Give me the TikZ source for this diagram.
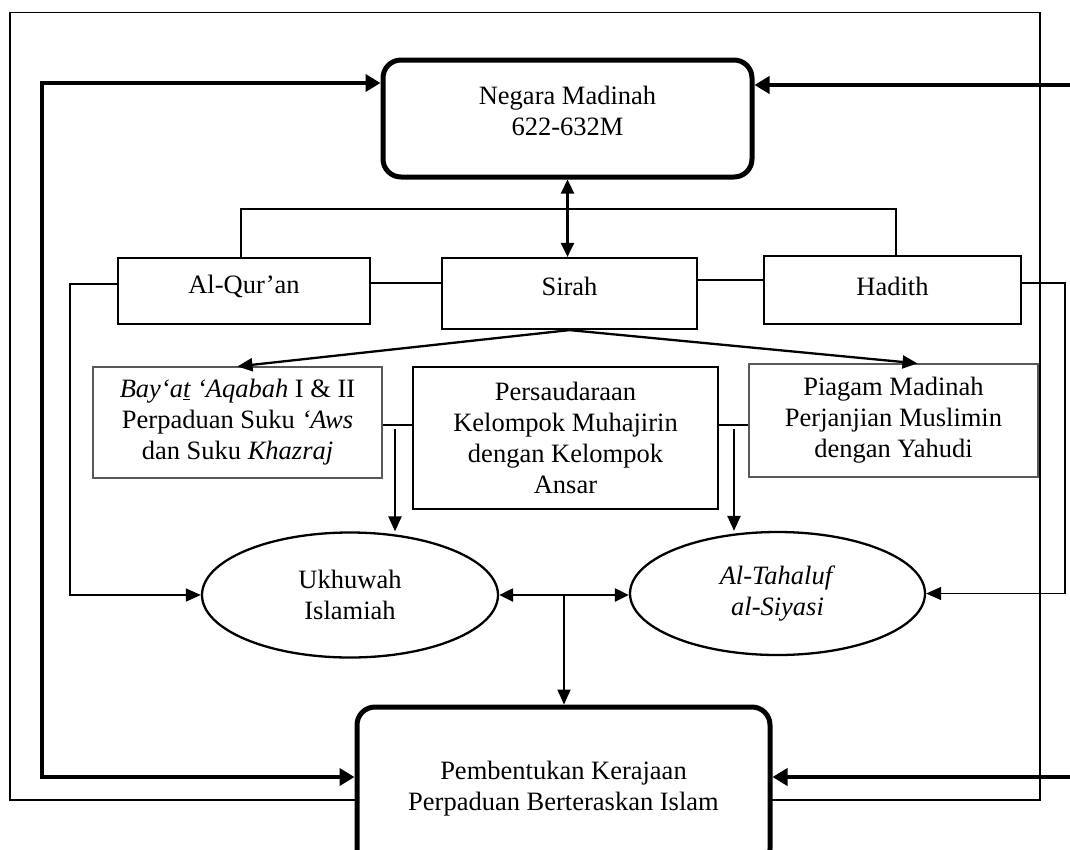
\documentclass[tikz,border=0pt]{standalone}
\usepackage{fontspec}
\setmainfont{Liberation Serif}
\usetikzlibrary{arrows.meta,shapes.geometric}
\newcommand\dfont{\fontsize{26.5}{31}\selectfont}
\begin{document}
\begin{tikzpicture}[x=1pt,y=-1pt,
  frameline/.style={line width=1.3pt},
  thinline/.style={line width=1.3pt},
  medline/.style={line width=2.3pt},
  heavyline/.style={line width=4.7pt},
  bigbox/.style={draw,line width=5pt,rounded corners=18pt,fill=white,inner sep=0pt},
  rowbox/.style={draw,line width=2.2pt,fill=white,inner sep=0pt},
  graybox/.style={draw=black!65,line width=1.2pt,fill=white,inner sep=0pt,align=center,font=\dfont},
  blackbox/.style={draw,line width=1.5pt,fill=white,inner sep=0pt,align=center,font=\dfont},
  oval/.style={draw,ellipse,line width=2.3pt,fill=white,inner sep=0pt,align=center,font=\dfont},
  txt/.style={align=center,inner sep=0pt,font=\dfont},
  bigtips/.style={>={Triangle[length=15pt,width=17pt]},<->},
  bigtip/.style={>={Triangle[length=15pt,width=17pt]},->},
  medtips/.style={>={Triangle[length=14pt,width=13pt]},<->},
  medtip/.style={>={Triangle[length=15pt,width=13pt]},->},
  smtip/.style={>={Triangle[length=15pt,width=13pt]},->}
]
\useasboundingbox (0,0) rectangle (1070,849);
\fill[white] (0,0) rectangle (1070,849);

% outer frame
\draw[frameline] (10,12.5) rectangle (1040,800);

% main boxes
\node[bigbox,minimum width=369pt,minimum height=117pt] (nm) at (567.5,118.5) {};
\node[txt] (nmt) at (567.5,111) {Negara Madinah\\622-632M};

\node[bigbox,minimum width=413pt,minimum height=160pt] (pb) at (563.5,787) {};
\node[txt] (pbt) at (563.5,789) {Pembentukan Kerajaan\\Perpaduan Berteraskan Islam};

% sources row
\node[rowbox,minimum width=252pt,minimum height=66pt] (q) at (244,291) {};
\node[txt] (qt) at (244,286) {Al-Qur’an};
\node[rowbox,minimum width=255pt,minimum height=71pt] (s) at (569.5,293.5) {};
\node[txt] (st) at (569.5,286) {Sirah};
\node[rowbox,minimum width=257pt,minimum height=68pt] (h) at (892.5,290) {};
\node[txt] (ht) at (892.5,286) {Hadith};

% middle row
\node[graybox,minimum width=289pt,minimum height=111pt] (b) at (237.5,422.5)
  {\textit{Bay‘a\underline{t} ‘Aqabah} I \& II\\Perpaduan Suku \textit{‘Aws}\\dan Suku \textit{Khazraj}};
\node[blackbox,minimum width=305pt,minimum height=142pt] (p) at (565.5,438)
  {Persaudaraan\\Kelompok Muhajirin\\dengan Kelompok\\Ansar};
\node[graybox,minimum width=289pt,minimum height=113pt] (g) at (893.5,420.5)
  {Piagam Madinah\\Perjanjian Muslimin\\dengan Yahudi};

% ellipses
\node[oval,minimum width=296pt,minimum height=125pt] (u) at (350,595) {Ukhuwah\\Islamiah};
\node[oval,minimum width=295pt,minimum height=123pt] (t) at (777.5,593.5) {\textit{Al-Tahaluf}\\\textit{al-Siyasi}};

% heavy arrows
\coordinate (cl1) at (42,83);
\coordinate (cl2) at (42,777);
\coordinate (cr1) at (1076,85);
\coordinate (cr2) at (1076,777);
\draw[heavyline,bigtips] (cl1 -| nm.west) -- (cl1) -- (cl2) -- (cl2 -| pb.west);
\draw[heavyline,bigtip] (cr1) -- (cr1 -| nm.east);
\draw[heavyline,bigtip] (cr2) -- (cr2 -| pb.east);

% Madinah <-> Sirah
\draw[medline,medtips] (nm.south) -- (nm.south |- s.north);

% top bracket
\coordinate (bk1) at (241,209);
\coordinate (bk2) at (896,209);
\draw[thinline] (bk1 |- q.north) -- (bk1) -- (bk2) -- (bk2 |- h.north);

% row links
\coordinate (qs) at (400,283);
\coordinate (sh) at (730,280);
\draw[thinline] (q.east |- qs) -- (s.west |- qs);
\draw[thinline] (s.east |- sh) -- (h.west |- sh);

% side connectors
\coordinate (ql) at (70,284);
\coordinate (hr) at (1065,283);
\draw[thinline,smtip] (q.west |- ql) -- (ql) -- (ql |- u.west) -- (u.west);
\draw[thinline,smtip] (h.east |- hr) -- (hr) -- (hr |- t.east) -- (t.east);

% Sirah split
\draw[medline,medtip] (s.south) -- (b.north);
\draw[medline,medtip] (s.south) -- ([xshift=24pt]g.north);

% middle links and arrows down
\coordinate (m1) at (395,425);
\coordinate (m2) at (734,425);
\coordinate (m1d) at (395,429);
\coordinate (m2d) at (734,429);
\draw[line width=2pt] (b.east |- m1) -- (p.west |- m1);
\draw[line width=2pt] (p.east |- m2) -- (g.west |- m2);
\draw[medline,medtip] (m1d) -- (m1d |- u.north);
\draw[medline,medtip] (m2d) -- (m2d |- t.north);

% between ellipses and down
\draw[medline,medtips] (u.east) -- (u.east -| t.west);
\coordinate (mid) at (564,595);
\draw[line width=1.8pt,smtip] (mid) -- (mid |- pb.north);
\end{tikzpicture}
\end{document}
